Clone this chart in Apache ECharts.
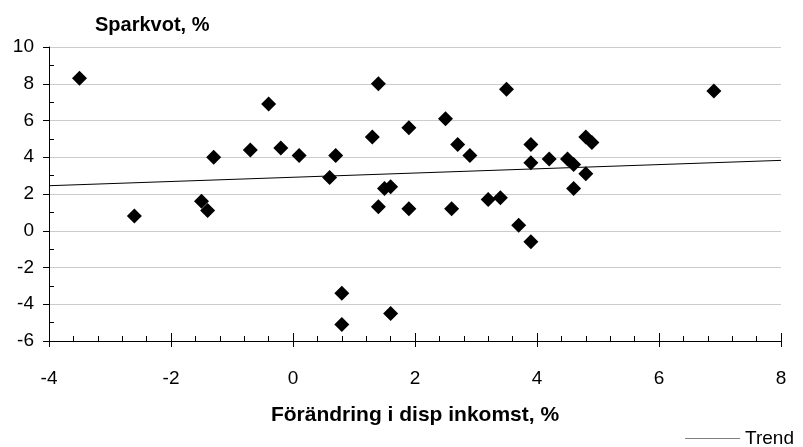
<!DOCTYPE html>
<html>
<head>
<meta charset="utf-8">
<script src="https://cdn.jsdelivr.net/npm/echarts@6/dist/echarts.min.js"></script>
<style>
html,body{margin:0;padding:0;background:#fff;}
#chart{width:803px;height:447px;}
</style>
</head>
<body>
<div id="chart"></div>
<script>
// Scatter data: change in disposable income (%) vs savings ratio (%)
var inkomst = [-3.5, -2.6, -1.5, -1.4, -1.3, -0.7, -0.4, -0.2, 0.1, 0.6, 0.7, 0.8, 0.8, 1.3, 1.4, 1.4, 1.5, 1.6, 1.6, 1.9, 1.9, 2.5, 2.6, 2.7, 2.9, 3.2, 3.4, 3.5, 3.7, 3.9, 3.9, 3.9, 4.2, 4.5, 4.6, 4.6, 4.8, 4.9, 4.8, 6.9];
var sparkvot = [8.3, 0.8, 1.6, 1.1, 4.0, 4.4, 6.9, 4.5, 4.1, 2.9, 4.1, -3.4, -5.1, 5.1, 8.0, 1.3, 2.3, 2.4, -4.5, 5.6, 1.2, 6.1, 1.2, 4.7, 4.1, 1.7, 1.8, 7.7, 0.3, 4.7, 3.7, -0.6, 3.9, 3.9, 3.6, 2.3, 5.1, 4.8, 3.1, 7.6];
// Trend line end points
var trendX = [-4, 8];
var trendY = [2.45, 3.83];

var xTitle = 'Förändring i disp inkomst, %';
var yTitle = 'Sparkvot, %';
var trendName = 'Trend';

var FONT = '"Liberation Sans", Arial, sans-serif';

var chart = echarts.init(document.getElementById('chart'), null, {renderer: 'canvas'});

var scatterData = inkomst.map(function (x, i) { return [x, sparkvot[i]]; });
var trendData = trendX.map(function (x, i) { return [x, trendY[i]]; });

chart.setOption({
  animation: false,
  backgroundColor: '#fff',
  textStyle: {fontFamily: FONT, color: '#000'},
  title: {
    text: yTitle,
    left: 90,
    top: 10,
    textStyle: {fontFamily: FONT, fontSize: 20, fontWeight: 'bold', color: '#000'}
  },
  legend: {
    data: [trendName],
    right: 4,
    top: 424,
    itemWidth: 55,
    itemHeight: 10,
    itemGap: 4,
    textStyle: {fontFamily: FONT, fontSize: 19, color: '#000'},
    icon: 'path://M0,0 L100,0 L100,1 L0,1 Z'
  },
  grid: {left: 49, right: 22, top: 47, bottom: 106, containLabel: false},
  xAxis: [{
    type: 'value', min: -4, max: 8, interval: 2, position: 'bottom',
    name: xTitle, nameLocation: 'middle', nameGap: 64,
    nameTextStyle: {fontFamily: FONT, fontSize: 21, fontWeight: 'bold', color: '#000'},
    axisLine: {show: true, onZero: false, lineStyle: {color: '#000', width: 1}},
    axisTick: {show: true, inside: true, length: 8, lineStyle: {color: '#000'}},
    minorTick: {show: true, splitNumber: 5, length: 5, lineStyle: {color: '#000'}},
    axisLabel: {show: true, margin: 28, fontFamily: FONT, fontSize: 19, color: '#000'},
    splitLine: {show: false}
  }, {
    type: 'value', min: -4, max: 8, interval: 2, position: 'bottom',
    axisLine: {show: false, onZero: false},
    axisTick: {show: true, inside: false, length: 6, lineStyle: {color: '#000'}},
    axisLabel: {show: false},
    splitLine: {show: false}
  }],
  yAxis: [{
    type: 'value', min: -6, max: 10, interval: 2, position: 'left',
    axisLine: {show: true, onZero: false, lineStyle: {color: '#000', width: 1}},
    axisTick: {show: true, inside: false, length: 6, lineStyle: {color: '#000'}},
    axisLabel: {show: true, margin: 15, fontFamily: FONT, fontSize: 19, color: '#000'},
    splitLine: {show: true, lineStyle: {color: '#cccccc', width: 1, type: 'solid'}}
  }, {
    type: 'value', min: -6, max: 10, interval: 2, position: 'left',
    axisLine: {show: false, onZero: false},
    axisTick: {show: false, inside: true},
    minorTick: {show: true, splitNumber: 2, length: 5, lineStyle: {color: '#000'}},
    axisLabel: {show: false},
    splitLine: {show: false}
  }],
  series: [{
    name: 'Sparkvot',
    type: 'scatter',
    xAxisIndex: 0, yAxisIndex: 0,
    symbol: 'diamond',
    symbolSize: 15,
    itemStyle: {color: '#000', opacity: 1},
    data: scatterData,
    z: 3
  }, {
    name: trendName,
    type: 'line',
    xAxisIndex: 0, yAxisIndex: 0,
    showSymbol: false,
    symbol: 'none',
    lineStyle: {color: '#000', width: 1},
    itemStyle: {color: '#000'},
    data: trendData,
    z: 2
  }]
});
</script>
</body>
</html>
